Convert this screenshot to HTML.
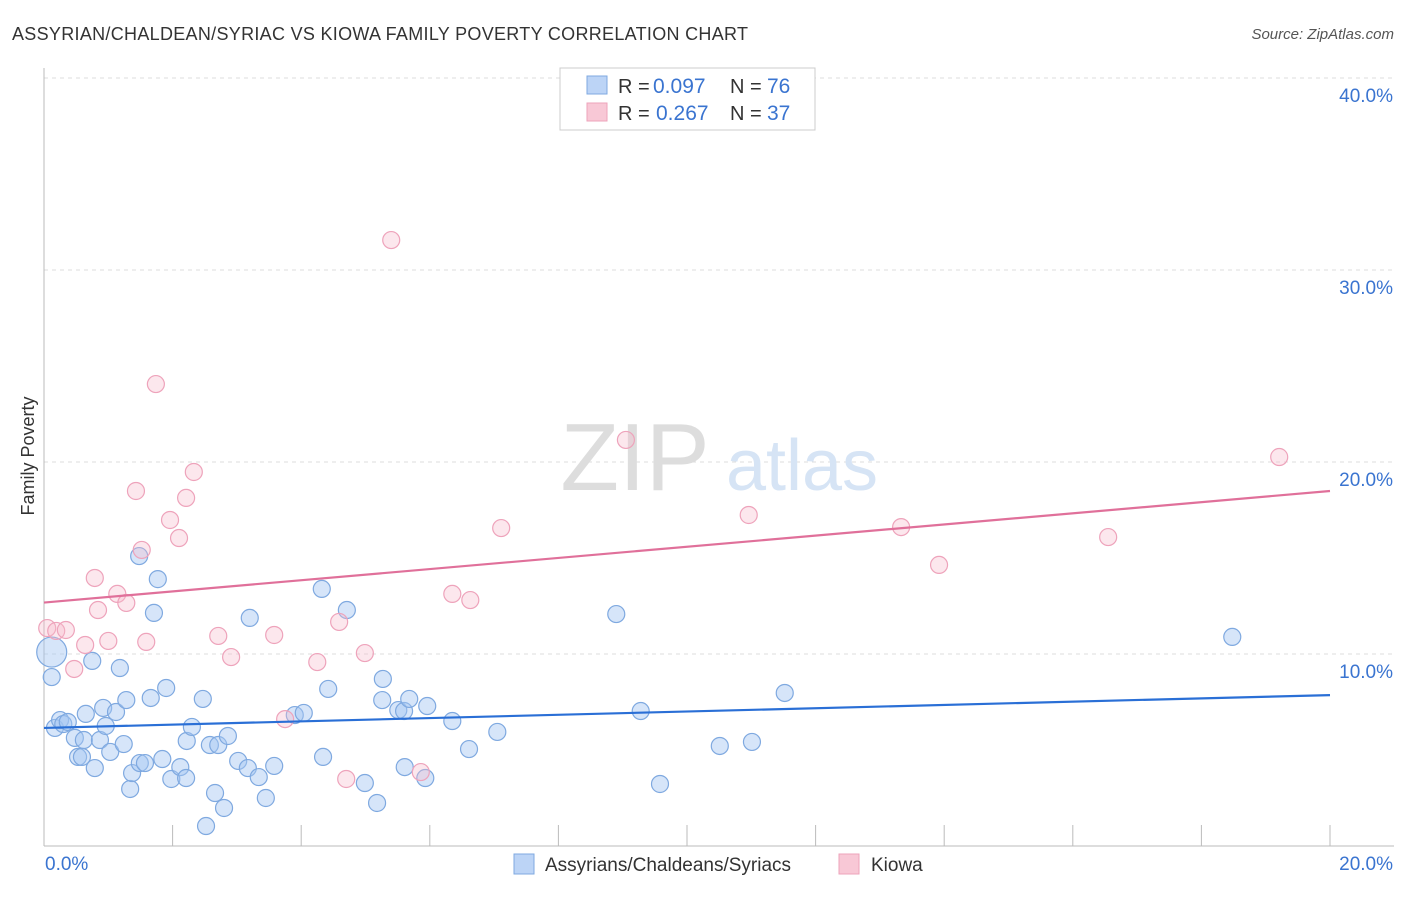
<!DOCTYPE html>
<html><head><meta charset="utf-8"><style>
body{margin:0;background:#fff;font-family:"Liberation Sans",sans-serif;}
svg text{font-family:"Liberation Sans",sans-serif;}
</style></head><body>
<svg id="chart" width="1406" height="892" viewBox="0 0 1406 892" xmlns="http://www.w3.org/2000/svg">
<text x="12" y="40" font-size="18" fill="#333" letter-spacing="0.3">ASSYRIAN/CHALDEAN/SYRIAC VS KIOWA FAMILY POVERTY CORRELATION CHART</text>
<text x="1394" y="39" font-size="15" fill="#555" font-style="italic" text-anchor="end">Source: ZipAtlas.com</text>
<text transform="translate(34,456) rotate(-90)" font-size="18" fill="#333" text-anchor="middle">Family Poverty</text>
<g id="grid"></g>
<g>
<text x="635" y="490" font-size="96" fill="#ddd" font-family="Liberation Serif" text-anchor="middle">ZIP</text>
<text x="802" y="490" font-size="72" fill="#d6e4f5" text-anchor="middle">atlas</text>
</g>
<g id="marks"></g>
<g>
<rect x="560" y="68" width="255" height="62" fill="#fff" stroke="#ccc"/>
<rect x="587" y="76" width="20" height="18" fill="#bcd4f6" stroke="#7fa9e0"/>
<rect x="587" y="103" width="20" height="18" fill="#f8c8d6" stroke="#eea3bb"/>
<text x="618" y="93" font-size="20" fill="#333">R =</text>
<text x="653" y="93" font-size="21" fill="#3a74d0">0.097</text>
<text x="730" y="93" font-size="20" fill="#333">N =</text>
<text x="767" y="93" font-size="21" fill="#3a74d0">76</text>
<text x="618" y="120" font-size="20" fill="#333">R =</text>
<text x="656" y="120" font-size="21" fill="#3a74d0">0.267</text>
<text x="730" y="120" font-size="20" fill="#333">N =</text>
<text x="767" y="120" font-size="21" fill="#3a74d0">37</text>
</g>
<g>
<rect x="514" y="854" width="20" height="20" fill="#bcd4f6" stroke="#7fa9e0"/>
<text x="545" y="871" font-size="19" fill="#333">Assyrians/Chaldeans/Syriacs</text>
<rect x="839" y="854" width="20" height="20" fill="#f8c8d6" stroke="#eea3bb"/>
<text x="871" y="871" font-size="19" fill="#333">Kiowa</text>
</g>
</svg>
<script>
const yTicks=[10,20,30,40];
const yTickLabels=["10.0%","20.0%","30.0%","40.0%"];
const xTickLabels=["0.0%","20.0%"];
const blueX=[0.12,0.12,0.17,0.25,0.30,0.37,0.48,0.53,0.59,0.65,0.62,0.75,0.79,0.87,0.92,0.96,1.03,1.12,1.18,1.24,1.28,1.34,1.37,1.48,1.49,1.57,1.66,1.71,1.77,1.84,1.90,1.98,2.12,2.21,2.22,2.30,2.47,2.52,2.58,2.66,2.71,2.80,2.86,3.02,3.17,3.20,3.34,3.45,3.58,3.90,4.04,4.34,4.32,4.42,4.71,4.99,5.18,5.26,5.27,5.51,5.60,5.61,5.68,5.93,5.96,6.35,6.61,7.05,8.90,9.28,9.58,10.51,11.01,11.52,18.48];
const blueY=[10.1,8.8,6.15,6.56,6.35,6.46,5.63,4.64,4.64,6.88,5.52,9.64,4.06,5.52,7.19,6.25,4.90,6.98,9.27,5.31,7.60,2.97,3.80,15.1,4.32,4.32,7.71,12.14,13.9,4.53,8.23,3.49,4.11,3.54,5.47,6.20,7.66,1.04,5.26,2.76,5.26,1.98,5.73,4.43,4.06,11.88,3.59,2.50,4.17,6.82,6.93,4.64,13.39,8.18,12.29,3.28,2.24,7.60,8.70,7.08,7.03,4.11,7.66,3.54,7.29,6.51,5.05,5.94,12.08,7.03,3.23,5.21,5.42,7.97,10.89];
const pinkX=[0.05,0.19,0.34,0.47,0.64,0.79,0.84,1.0,1.14,1.28,1.43,1.52,1.59,1.74,1.96,2.10,2.21,2.33,2.71,2.91,3.58,3.75,4.25,4.59,4.70,4.99,5.40,5.86,6.35,6.63,7.11,9.05,10.96,13.33,13.92,16.55,19.21];
const pinkY=[11.35,11.2,11.25,9.22,10.47,13.96,12.29,10.68,13.13,12.66,18.49,15.42,10.63,24.06,16.98,16.04,18.13,19.48,10.94,9.84,10.99,6.61,9.58,11.67,3.49,10.05,31.56,3.85,13.13,12.81,16.56,21.15,17.24,16.61,14.64,16.09,20.26];
const blueTrend=[6.15,7.86];
const pinkTrend=[12.68,18.49];
const NS="http://www.w3.org/2000/svg";
const X0=44,X1=1330,Y0=846,PY=19.2;
function sx(v){return X0+v/20*(X1-X0);}
function sy(v){return Y0-v*PY;}
function mk(tag,attrs,parent){const e=document.createElementNS(NS,tag);for(const k in attrs)e.setAttribute(k,attrs[k]);parent.appendChild(e);return e;}
const grid=document.getElementById('grid');
const marks=document.getElementById('marks');
yTicks.forEach((t,i)=>{
 const l=mk('line',{x1:X0,x2:1394,y1:sy(t),y2:sy(t),stroke:'#ddd','stroke-dasharray':'4,4'},grid);
 
 
 const tx=mk('text',{x:1393,y:sy(t)+24,'font-size':19,fill:'#3a74d0','text-anchor':'end'},grid);
 tx.textContent=yTickLabels[i];
 
 
});
const ya=mk('line',{x1:X0,x2:X0,y1:68,y2:Y0,stroke:'#bbb'},grid);


const xa=mk('line',{x1:X0,x2:1394,y1:Y0,y2:Y0,stroke:'#bbb'},grid);


for(let i=0;i<=10;i++){
 const t=mk('line',{x1:sx(i*2),x2:sx(i*2),y1:Y0,y2:Y0-21,stroke:'#bbb'},grid);
 
 
}
[[0,'start',45],[20,'end',1393]].forEach((p,i)=>{
 const tx=mk('text',{x:p[2],y:870,'font-size':19,fill:'#3a74d0','text-anchor':p[1]},grid);
 tx.textContent=xTickLabels[i];
 
 
});
function pts(xs,ys,fill,stroke,name){
 xs.forEach((x,i)=>{
  const r=(i===0&&name==='blue-point')?15:8.5;
  const c=mk('circle',{cx:sx(x),cy:sy(ys[i]),r:r,fill:fill,stroke:stroke,'stroke-width':1.2},marks);
  
  
 });
}
pts(blueX,blueY,'rgba(165,198,242,0.45)','#7fa9e0','blue-point');
pts(pinkX,pinkY,'rgba(246,185,204,0.35)','#eea3bb','pink-point');
const bt=mk('line',{x1:sx(0),y1:sy(blueTrend[0]),x2:sx(20),y2:sy(blueTrend[1]),stroke:'#2a6fd6','stroke-width':2.2},marks);


const pt=mk('line',{x1:sx(0),y1:sy(pinkTrend[0]),x2:sx(20),y2:sy(pinkTrend[1]),stroke:'#e0709a','stroke-width':2.2},marks);


</script>
</body></html>
